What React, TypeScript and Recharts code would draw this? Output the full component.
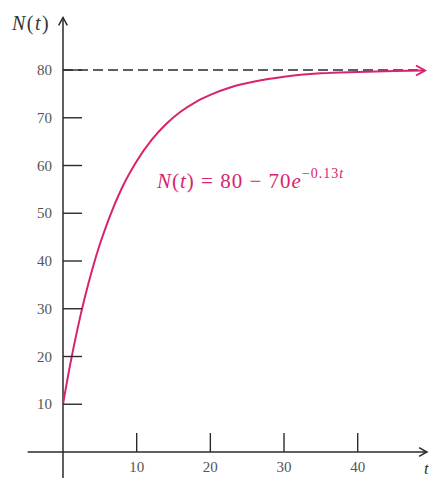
import React from 'react';
import { LineChart, Line, XAxis, YAxis, ReferenceLine } from 'recharts';

// time values and N(t)
const tValues = [0, 1, 2, 3, 4, 5, 6, 8, 10, 12, 14, 16, 18, 20, 23, 26, 30, 35, 40, 45, 49];
const nValues = [10, 18.5, 26, 32.6, 38.4, 43.5, 47.9, 55.3, 60.9, 65.3, 68.7, 71.3, 73.3, 74.8, 76.5, 77.6, 78.6, 79.3, 79.6, 79.8, 79.9];
const xTicks = [10, 20, 30, 40];
const yTicks = [10, 20, 30, 40, 50, 60, 70, 80];
const asymptote = 80;

const data = tValues.map((t, i) => ({ t, n: nValues[i] }));

const MAG = '#d6246e';
const AXIS = '#2a2a2a';
const LABEL = '#555';
const SERIF = 'Liberation Serif, DejaVu Serif, serif';

const renderYTick = (props: any) => {
  const { x, y, payload } = props;
  return (
    <g>
      <line x1={x} y1={y} x2={x + 19} y2={y} stroke={AXIS} strokeWidth={1.4} />
      <text x={x - 11} y={y} dy={5} textAnchor="end" fontSize={15} fill={LABEL} fontFamily={SERIF}>
        {payload.value}
      </text>
    </g>
  );
};

const renderXTick = (props: any) => {
  const { x, y, payload } = props;
  return (
    <g>
      <line x1={x} y1={y} x2={x} y2={y - 19} stroke={AXIS} strokeWidth={1.4} />
      <text x={x} y={y + 20} textAnchor="middle" fontSize={15} fill={LABEL} fontFamily={SERIF}>
        {payload.value}
      </text>
    </g>
  );
};

// line with an open arrowhead at its second end
const arrowLine = (color: string, width: number) => (p: any) => {
  const { x1, y1, x2, y2 } = p;
  const a = Math.atan2(y2 - y1, x2 - x1);
  const L = 9;
  const s = 0.5;
  const ax = x2 - L * Math.cos(a - s);
  const ay = y2 - L * Math.sin(a - s);
  const bx = x2 - L * Math.cos(a + s);
  const by = y2 - L * Math.sin(a + s);
  return (
    <g>
      <line x1={x1} y1={y1} x2={x2} y2={y2} stroke={color} strokeWidth={width} />
      <path d={`M${ax},${ay} L${x2},${y2} L${bx},${by}`} fill="none" stroke={color} strokeWidth={width} />
    </g>
  );
};

const CurveEnd = (props: any) => {
  const { cx, cy, index } = props;
  if (index !== data.length - 1) return <g key={`d-${index}`} />;
  return (
    <path
      key={`d-${index}`}
      d={`M${cx - 8},${cy - 5} L${cx + 1},${cy} L${cx - 8},${cy + 5}`}
      fill="none"
      stroke={MAG}
      strokeWidth={2}
    />
  );
};

export default function App() {
  return (
    <div style={{ position: 'absolute', left: 0, top: 0, background: '#fff' }}>
      <LineChart width={429} height={478} data={data} margin={{ top: 17.5, right: 5, bottom: 0, left: 0 }}>
        <XAxis
          dataKey="t"
          type="number"
          domain={[0, 49]}
          ticks={xTicks}
          axisLine={false}
          tickLine={false}
          tickSize={0}
          tickMargin={0}
          height={26}
          tick={renderXTick}
        />
        <YAxis
          type="number"
          domain={[0, 91]}
          ticks={yTicks}
          axisLine={false}
          tickLine={false}
          tickSize={0}
          tickMargin={0}
          width={63}
          tick={renderYTick}
        />
        <ReferenceLine
          segment={[{ x: 0, y: asymptote }, { x: 48.2, y: asymptote }]}
          stroke={AXIS}
          strokeWidth={1.3}
          strokeDasharray="10 5"
          ifOverflow="visible"
        />
        <ReferenceLine
          segment={[{ x: -4.8, y: 0 }, { x: 49.4, y: 0 }]}
          ifOverflow="visible"
          shape={arrowLine(AXIS, 1.5)}
        />
        <ReferenceLine
          segment={[{ x: 0, y: -6 }, { x: 0, y: 91 }]}
          ifOverflow="visible"
          shape={arrowLine(AXIS, 1.5)}
        />
        <Line
          type="monotone"
          dataKey="n"
          stroke={MAG}
          strokeWidth={2}
          dot={CurveEnd}
          activeDot={false}
          isAnimationActive={false}
        />
        <text x={12} y={30} fontSize={20} fill="#333" fontFamily={SERIF} letterSpacing={1.5}>
          <tspan fontStyle="italic">N</tspan>(<tspan fontStyle="italic">t</tspan>)
        </text>
        <text x={157} y={188} fontSize={21} fill={MAG} fontFamily={SERIF} letterSpacing={1}>
          <tspan fontStyle="italic">N</tspan>(<tspan fontStyle="italic">t</tspan>) = 80 − 70<tspan fontStyle="italic">e</tspan>
          <tspan dy={-10} fontSize={14}>−0.13</tspan>
          <tspan fontStyle="italic" fontSize={14}>t</tspan>
        </text>
        <text x={424} y={474} fontSize={17} fill="#333" fontFamily={SERIF} fontStyle="italic">
          t
        </text>
      </LineChart>
    </div>
  );
}
